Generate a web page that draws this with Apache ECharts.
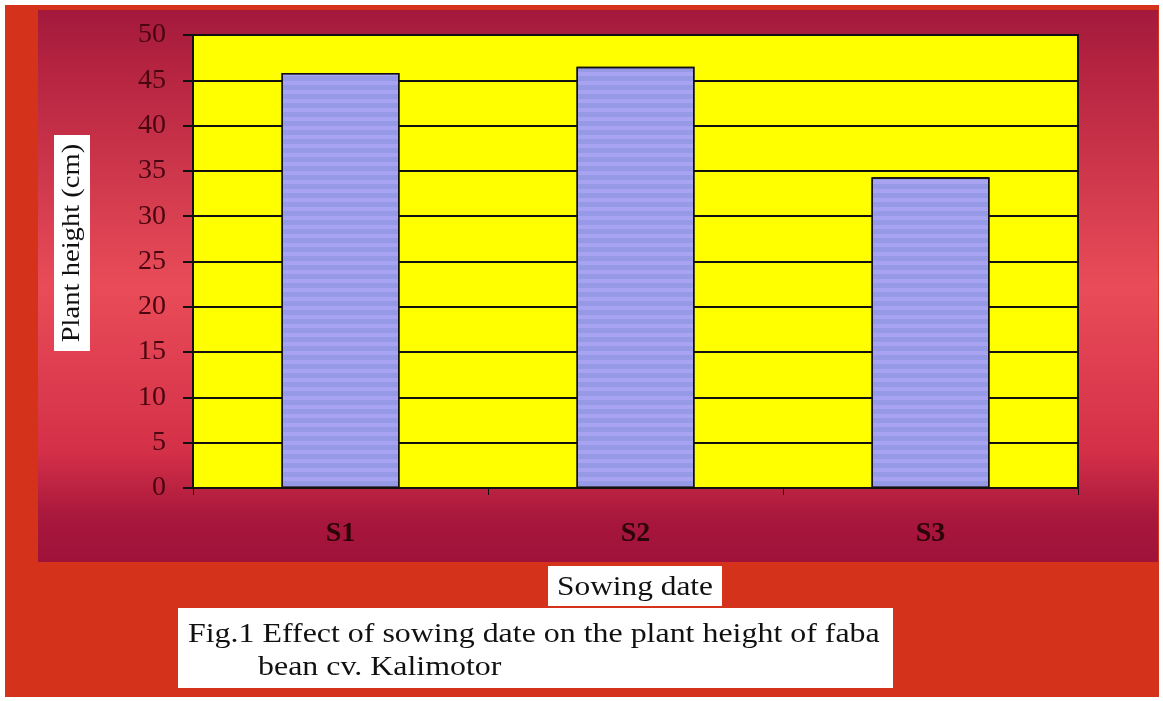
<!DOCTYPE html>
<html>
<head>
<meta charset="utf-8">
<script src="https://cdn.jsdelivr.net/npm/echarts@6/dist/echarts.min.js"></script>
<style>
  html, body { margin: 0; padding: 0; background: #fff; }
  #chart { width: 1163px; height: 701px; }
</style>
</head>
<body>
<div id="chart"></div>
<script>
  // sowing dates and plant heights (cm)
  const categories = ['S1', 'S2', 'S3']
  const heights = [45.8, 46.5, 34.3]
  const yTicks = { min: 0, max: 50, interval: 5 }

  const chart = echarts.init(document.getElementById('chart'))
  const serif = '"Liberation Serif", "DejaVu Serif", serif'

  chart.setOption({
    animation: false,
    backgroundColor: '#ffffff',
    graphic: [
      // outer red frame
      { type: 'rect', z: -10, shape: { x: 5, y: 5, width: 1154, height: 692 },
        style: { fill: '#d5321c' } },
      // darker inner band behind the plot
      { type: 'rect', z: -9, shape: { x: 38, y: 10, width: 1120, height: 552 },
        style: {
          fill: new echarts.graphic.LinearGradient(0, 0, 0, 1, [
            { offset: 0, color: '#a3193c' },
            { offset: 0.1, color: '#b42340' },
            { offset: 0.5, color: '#e94c58' },
            { offset: 0.8, color: '#d43048' },
            { offset: 0.92, color: '#a8173c' },
            { offset: 1, color: '#a0123a' }
          ])
        } },
      // y axis title box
      { type: 'text', z: 10, x: 72, y: 243, rotation: Math.PI / 2, scaleX: 1.1,
        style: {
          text: 'Plant height (cm)', font: '26px ' + serif, fill: '#111',
          align: 'center', verticalAlign: 'middle',
          backgroundColor: '#fff', padding: [5, 8, 5, 8]
        } },
      // x axis title box
      { type: 'rect', z: 10, shape: { x: 548, y: 566, width: 174, height: 40 },
        style: { fill: '#fff' } },
      { type: 'text', z: 11, x: 635, y: 588, scaleX: 1.12,
        style: { text: 'Sowing date', font: '28px ' + serif, fill: '#111',
          align: 'center', verticalAlign: 'middle' } },
      // caption box
      { type: 'rect', z: 10, shape: { x: 178, y: 608, width: 715, height: 80 },
        style: { fill: '#fff' } },
      { type: 'text', z: 11, x: 188, y: 635, scaleX: 1.14,
        style: { text: 'Fig.1 Effect of sowing date on the plant height of faba',
          font: '28px ' + serif, fill: '#111', align: 'left', verticalAlign: 'middle' } },
      { type: 'text', z: 11, x: 258, y: 668, scaleX: 1.14,
        style: { text: 'bean cv. Kalimotor',
          font: '28px ' + serif, fill: '#111', align: 'left', verticalAlign: 'middle' } }
    ],
    grid: {
      left: 193,
      right: 85,
      top: 35,
      bottom: 213,
      show: true,
      backgroundColor: '#ffff00',
      borderColor: '#111',
      borderWidth: 2
    },
    xAxis: {
      type: 'category',
      data: categories,
      axisLine: { lineStyle: { color: '#111', width: 2 } },
      axisTick: { show: true, length: 7, lineStyle: { color: '#111' } },
      axisLabel: { margin: 32, color: '#2a0408', fontSize: 28, fontWeight: 'bold', fontFamily: serif }
    },
    yAxis: {
      type: 'value',
      min: yTicks.min,
      max: yTicks.max,
      interval: yTicks.interval,
      axisLine: { show: true, lineStyle: { color: '#111', width: 2 } },
      axisTick: { show: true, length: 10, lineStyle: { color: '#111', width: 2 } },
      axisLabel: { margin: 27, color: '#4a0610', fontSize: 28, fontFamily: serif },
      splitLine: { lineStyle: { color: '#111', width: 2 } }
    },
    series: [
      {
        type: 'bar',
        data: heights,
        barWidth: '40%',
        itemStyle: {
          color: '#969ae6',
          borderColor: '#111',
          borderWidth: 1.5,
          decal: {
            symbol: 'rect',
            color: 'rgba(190, 175, 255, 0.45)',
            dashArrayX: [1, 0],
            dashArrayY: [4, 5],
            rotation: 0
          }
        }
      }
    ]
  })
</script>
</body>
</html>
